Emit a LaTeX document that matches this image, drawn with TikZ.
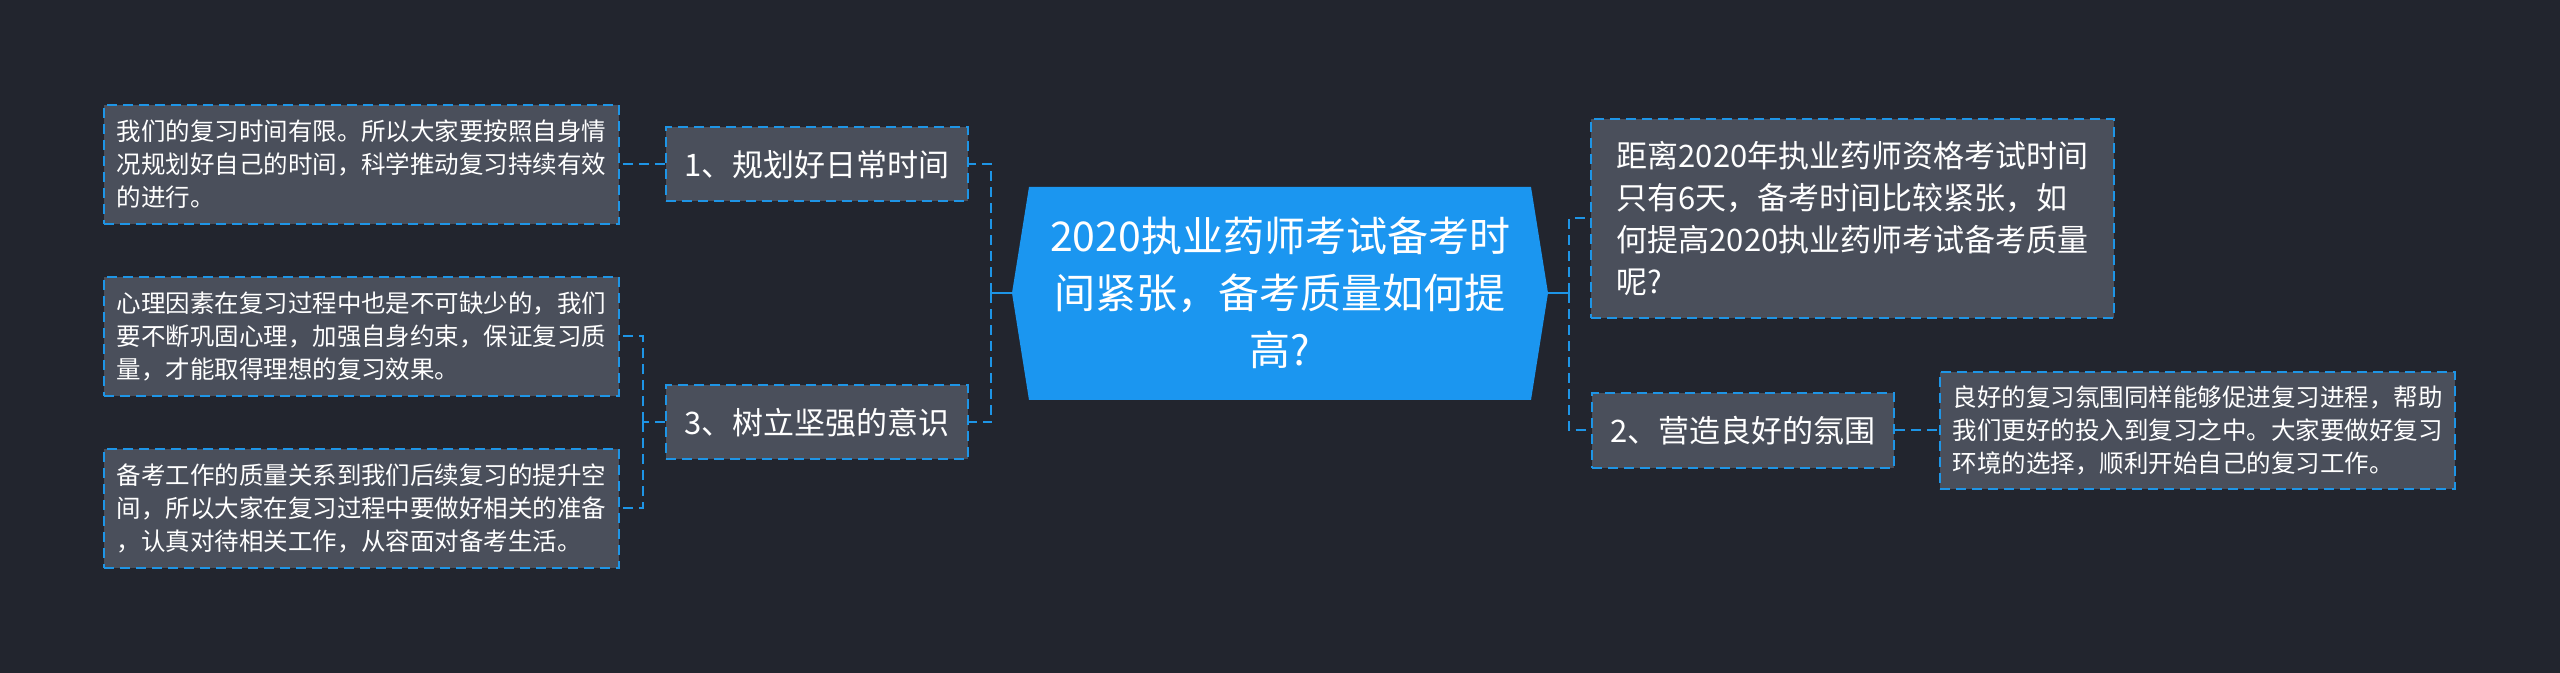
\documentclass[tikz,border=0pt]{standalone}
\usepackage{fontspec}
\newfontfamily\cjk{Noto Sans CJK SC}
\usetikzlibrary{calc}
\definecolor{bg}{HTML}{22252E}
\definecolor{boxfill}{HTML}{4A4F5B}
\definecolor{lineblue}{HTML}{1E95E6}
\definecolor{centerblue}{HTML}{1B96F0}
\tikzset{
  dashline/.style={dash pattern=on 5pt off 3pt, line width=1pt, draw=lineblue},
  leafbox/.style={dashline, fill=boxfill, text=white, align=left, inner sep=0pt,
    font=\cjk\fontsize{12.25}{16.5}\selectfont, minimum width=257.5pt},
  branchbox/.style={dashline, fill=boxfill, text=white, inner sep=0pt,
    font=\cjk\fontsize{15.5}{20}\selectfont, minimum width=151pt, minimum height=37pt},
  bigleaf/.style={dashline, fill=boxfill, text=white, align=left, inner sep=0pt,
    font=\cjk\fontsize{15.5}{21}\selectfont, minimum width=261.5pt, minimum height=99.5pt},
  centerbox/.style={text=white, align=center, inner sep=0pt,
    font=\cjk\fontsize{20.5}{28.5}\selectfont, minimum width=268pt, minimum height=106.5pt},
  conn/.style={dashline},
  solidconn/.style={draw=lineblue, line width=1pt}
}
\begin{document}
\begin{tikzpicture}[x=0.5pt,y=-0.5pt]
\fill[bg] (0,0) rectangle (2560,673);
\useasboundingbox (0,0) rectangle (2560,673);

% center shape
\fill[centerblue] (1012,293) -- (1029,187) -- (1531,187) -- (1548,293) -- (1531,400) -- (1029,400) -- cycle;
\node[centerbox] (c) at (1280,293) {2020执业药师考试备考时\\间紧张，备考质量如何提\\高?};

% left side
\node[branchbox] (b1) at (817,164.5) {1、规划好日常时间};
\node[branchbox] (b3) at (817,422.5) {3、树立坚强的意识};
\node[leafbox, minimum height=59.5pt] (l1) at (361.5,164.5) {我们的复习时间有限。所以大家要按照自身情\\况规划好自己的时间，科学推动复习持续有效\\的进行。};
\node[leafbox, minimum height=59.5pt] (l2) at (361.5,336.5) {心理因素在复习过程中也是不可缺少的，我们\\要不断巩固心理，加强自身约束，保证复习质\\量，才能取得理想的复习效果。};
\node[leafbox, minimum height=59.5pt] (l3) at (361.5,508.5) {备考工作的质量关系到我们后续复习的提升空\\间，所以大家在复习过程中要做好相关的准备\\，认真对待相关工作，从容面对备考生活。};

% right side
\node[bigleaf] (r1) at (1852.5,218.5) {距离2020年执业药师资格考试时间\\只有6天，备考时间比较紧张，如\\何提高2020执业药师考试备考质量\\呢?};
\node[branchbox, minimum height=37.5pt] (b2) at (1743,430.5) {2、营造良好的氛围};
\node[leafbox, minimum height=58.5pt] (l4) at (2197.5,430.5) {良好的复习氛围同样能够促进复习进程，帮助\\我们更好的投入到复习之中。大家要做好复习\\环境的选择，顺利开始自己的复习工作。};

% junctions
\coordinate (jl) at (991,293);
\coordinate (j3) at (643,422.5);
\coordinate (jr) at (1569,293);

% connectors
\draw[solidconn] (c.west) -- (jl);
\draw[conn] (jl) |- (b1.east);
\draw[conn] (jl) |- (b3.east);
\draw[conn] (b1.west) -- (l1.east);
\draw[conn] (b3.west) -- (j3);
\draw[conn] (j3) |- (l2.east);
\draw[conn] (j3) |- (l3.east);
\draw[solidconn] (c.east) -- (jr);
\draw[conn] (jr) |- (r1.west);
\draw[conn] (jr) |- (b2.west);
\draw[conn] (b2.east) -- (l4.west);
\end{tikzpicture}
\end{document}
